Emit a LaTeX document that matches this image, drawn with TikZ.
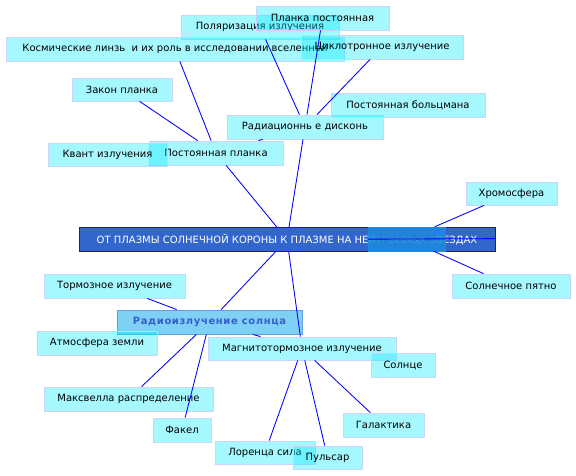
\documentclass[tikz,border=0pt]{standalone}
\usepackage{fontspec}
\setmainfont{DejaVu Sans}
\newfontfamily\spacedfont[LetterSpace=6]{DejaVu Sans}
\usepackage{xcolor}
\usepackage{tikz}
\usetikzlibrary{arrows.meta,shapes,calc}

\definecolor{leafcyan}{RGB}{0,235,255}
\definecolor{leafedge}{RGB}{200,212,250}
\definecolor{hubblue}{RGB}{51,102,204}
\definecolor{hubedge}{RGB}{40,20,160}
\definecolor{radiofill}{RGB}{127,208,245}
\definecolor{radioedge}{RGB}{100,160,225}
\definecolor{radiotext}{RGB}{52,94,205}
\definecolor{photofill}{RGB}{30,138,220}
\definecolor{phototext}{RGB}{45,100,205}

\begin{document}
\begin{tikzpicture}[
    x=1pt, y=-1pt,
    base/.style={draw, rectangle, align=center,
                 font=\fontsize{10}{12}\selectfont,
                 minimum height=24pt, inner xsep=2pt, inner ysep=0pt},
    leaf/.style={base, fill=leafcyan, fill opacity=0.35, text opacity=1,
                 draw=leafedge, draw opacity=1, line width=0.8pt},
    hubnode/.style={base, fill=hubblue, draw=hubedge, line width=0.9pt,
                    text=white},
    radionode/.style={base, fill=radiofill, draw=radioedge, line width=0.9pt,
                      text=radiotext},
    photonode/.style={base, fill=photofill, fill opacity=0.88,
                      draw=photofill, text=phototext, text opacity=0.5},
    link/.style={blue, line width=0.85pt},
  ]
    \useasboundingbox (0,0) rectangle (576,476);

    % ---- centre ----
    \node[hubnode, minimum width=416pt] (hub) at (287,239.5)
      {ОТ ПЛАЗМЫ СОЛНЕЧНОЙ КОРОНЫ К ПЛАЗМЕ НА НЕЙТРОННЫХ ЗВЕЗДАХ};
    \node[photonode, minimum width=77pt] (photo) at (406.5,239) {Фотосфера};

    % ---- upper branch ----
    \node[leaf, minimum width=156pt] (radi) at (305,127) {Радиационнь е дисконь};
    \node[leaf, minimum width=134pt] (pplanck) at (216,153) {Постоянная планка};
    \node[leaf, minimum width=158pt] (polar) at (260,27) {Поляризация излучения};
    \node[leaf, minimum width=338pt] (lens) at (175,49)
      {Космические линзь\ \ и их роль в исследовании вселенной};
    \node[leaf, minimum width=133pt] (planckc) at (322.5,18) {Планка постоянная};
    \node[leaf, minimum width=162pt] (cyclo) at (382,47) {Циклотронное излучение};
    \node[leaf, minimum width=100pt, minimum height=23pt] (zakon) at (122,89.5) {Закон планка};
    \node[leaf, minimum width=154pt] (boltz) at (408,105) {Постоянная больцмана};
    \node[leaf, minimum width=119pt, minimum height=23pt] (kvant) at (107.5,154.5) {Квант излучения};

    % ---- right branch ----
    \node[leaf, minimum width=91pt, minimum height=23pt] (chromo) at (511.5,193.5) {Хромосфера};
    \node[leaf, minimum width=118pt] (spot) at (511,286) {Солнечное пятно};

    % ---- lower branch ----
    \node[radionode, minimum width=185pt] (radio) at (209.5,322)
      {\spacedfont\bfseries Радиоизлучение солнца};
    \node[leaf, minimum width=141pt] (torm) at (114.5,286) {Тормозное излучение};
    \node[leaf, minimum width=120pt] (atmo) at (97,343) {Атмосфера земли};
    \node[leaf, minimum width=188pt, minimum height=23pt] (magn) at (302,348.5) {Магнитотормозное излучение};
    \node[leaf, minimum width=64pt] (sun) at (403,365) {Солнце};
    \node[leaf, minimum width=169pt] (maxw) at (128.5,399) {Максвелла распределение};
    \node[leaf, minimum width=58pt] (fakel) at (182,430) {Факел};
    \node[leaf, minimum width=81pt] (galak) at (383.5,425) {Галактика};
    \node[leaf, minimum width=100pt, minimum height=23pt] (lorentz) at (265,452.5) {Лоренца сила};
    \node[leaf, minimum width=69pt, minimum height=23pt] (pulsar) at (327.5,457.5) {Пульсар};

    % ---- links ----
    \draw[link] (hub) -- (pplanck);
    \draw[link] (hub) -- (radi);
    \draw[link] (hub) -- (radio);
    \draw[link] (hub) -- (magn);
    \draw[link] (hub) -- (photo);
    \draw[link] (pplanck) -- (zakon);
    \draw[link] (pplanck) -- (lens);
    \draw[link] (pplanck) -- (radi);
    \draw[link] (radi) -- (polar);
    \draw[link] (radi) -- (planckc);
    \draw[link] (radi) -- (cyclo);
    \draw[link] (photo) -- (chromo);
    \draw[link] (photo) -- (spot);
    \draw[link] (radio) -- (torm);
    \draw[link] (radio) -- (maxw);
    \draw[link] (radio) -- (fakel);
    \draw[link] (radio) -- (magn);
    \draw[link] (magn) -- (lorentz);
    \draw[link] (magn) -- (pulsar);
    \draw[link] (magn) -- (galak);
  \end{tikzpicture}
\end{document}
